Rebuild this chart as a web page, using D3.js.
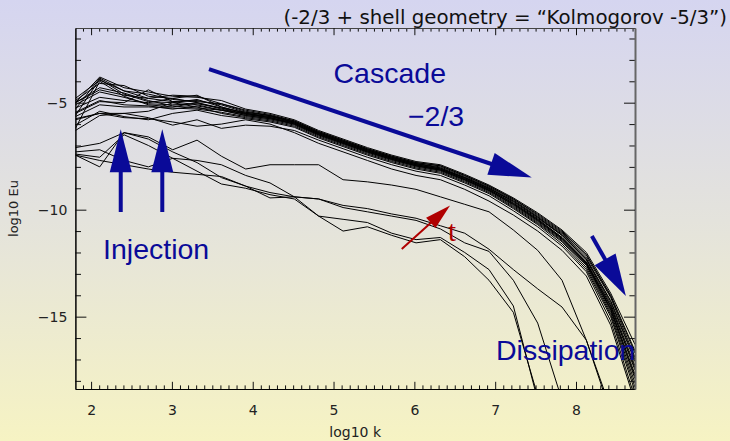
<!DOCTYPE html>
<html>
<head>
<meta charset="utf-8">
<script src="https://cdn.jsdelivr.net/npm/d3@7/dist/d3.min.js"></script>
<style>
  html, body { margin: 0; padding: 0; }
  body { width: 730px; height: 441px; overflow: hidden; }
  svg { display: block; }
</style>
</head>
<body>
<svg id="chart" width="730" height="441"></svg>
<script>
// Shell wavenumbers, log10 k_n for k_n = 2^n, n = 6 … 29
const logK = [1.806, 2.107, 2.408, 2.709, 3.010, 3.311, 3.612, 3.913, 4.214, 4.515, 4.816, 5.118,
              5.419, 5.720, 6.021, 6.322, 6.623, 6.924, 7.225, 7.526, 7.827, 8.128, 8.429, 8.730];

// Energy spectra log10 Eu, one array per snapshot (fully developed cascade)
const spec01 = [-5.0, -3.8, -4.3, -4.5, -4.7, -4.75, -4.9, -5.3, -5.5, -5.8, -6.3, -6.7, -7.1, -7.45, -7.75, -7.9, -8.35, -8.85, -9.45, -10.15, -10.95, -12.0, -13.9, -16.3];
const spec02 = [-5.3, -3.85, -4.45, -4.8, -4.95, -4.9, -5.1, -5.45, -5.6, -5.85, -6.35, -6.75, -7.15, -7.5, -7.8, -7.95, -8.4, -8.9, -9.5, -10.25, -11.05, -12.1, -14.0, -16.6];
const spec03 = [-5.6, -3.9, -4.6, -4.95, -5.0, -4.85, -5.2, -5.5, -5.65, -5.9, -6.4, -6.8, -7.2, -7.55, -7.85, -8.0, -8.45, -8.95, -9.55, -10.3, -11.1, -12.2, -14.1, -16.9];
const spec04 = [-6.2, -4.0, -4.7, -5.1, -5.2, -5.0, -5.3, -5.55, -5.7, -5.95, -6.45, -6.85, -7.25, -7.6, -7.9, -8.1, -8.5, -9.0, -9.65, -10.4, -11.2, -12.3, -14.3, -17.1];
const spec05 = [-4.9, -4.1, -4.2, -4.7, -4.8, -5.0, -5.25, -5.45, -5.6, -5.9, -6.4, -6.8, -7.2, -7.55, -7.85, -8.05, -8.5, -9.0, -9.6, -10.35, -11.2, -12.35, -14.4, -17.3];
const spec06 = [-5.0, -4.4, -4.65, -4.8, -4.65, -4.7, -5.05, -5.4, -5.6, -5.95, -6.45, -6.85, -7.25, -7.6, -7.9, -8.1, -8.55, -9.05, -9.7, -10.45, -11.3, -12.45, -14.5, -17.5];
const spec07 = [-5.25, -4.75, -4.9, -5.0, -4.8, -4.65, -5.2, -5.5, -5.7, -6.0, -6.5, -6.9, -7.3, -7.65, -7.95, -8.15, -8.6, -9.1, -9.75, -10.5, -11.35, -12.5, -14.6, -17.7];
const spec08 = [-5.5, -4.95, -5.0, -4.4, -4.95, -5.1, -5.35, -5.6, -5.75, -6.0, -6.5, -6.9, -7.3, -7.65, -7.95, -8.15, -8.6, -9.1, -9.8, -10.55, -11.4, -12.55, -14.7, -17.9];
const spec09 = [-5.65, -5.1, -5.2, -5.2, -5.25, -5.3, -5.45, -5.65, -5.8, -6.05, -6.55, -6.95, -7.35, -7.7, -8.0, -8.2, -8.65, -9.15, -9.85, -10.6, -11.45, -12.6, -14.8, -18.1];
const spec10 = [-5.8, -5.5, -5.5, -5.4, -5.0, -5.2, -5.5, -5.7, -5.85, -6.1, -6.6, -7.0, -7.4, -7.75, -8.05, -8.25, -8.7, -9.2, -9.9, -10.65, -11.5, -12.7, -14.9, -18.3];
const spec11 = [-6.05, -5.4, -5.65, -5.8, -5.5, -5.35, -5.6, -5.75, -5.9, -6.15, -6.65, -7.05, -7.45, -7.8, -8.1, -8.3, -8.75, -9.25, -9.95, -10.7, -11.6, -12.8, -15.0, -18.5];
const spec12 = [-6.3, -5.6, -5.5, -5.7, -6.05, -5.8, -6.2, -6.05, -6.1, -6.3, -6.75, -7.15, -7.55, -7.9, -8.2, -8.4, -8.85, -9.35, -10.05, -10.8, -11.7, -12.9, -15.2, -18.8];
const spec13 = [-5.0, -4.3, -4.55, -4.9, -5.15, -5.25, -5.35, -5.5, -5.65, -5.9, -6.4, -6.8, -7.2, -7.55, -7.85, -8.05, -8.5, -9.0, -9.6, -10.35, -11.15, -12.3, -14.25, -17.0];
const spec14 = [-5.1, -4.5, -4.75, -5.05, -5.1, -5.05, -5.25, -5.55, -5.7, -5.95, -6.45, -6.85, -7.25, -7.6, -7.9, -8.1, -8.55, -9.05, -9.7, -10.45, -11.3, -12.45, -14.5, -17.4];
const spec15 = [-5.45, -4.9, -5.1, -5.15, -5.3, -5.15, -5.35, -5.6, -5.75, -6.0, -6.5, -6.9, -7.3, -7.65, -7.95, -8.15, -8.6, -9.1, -9.75, -10.5, -11.35, -12.5, -14.65, -17.8];
const spec16 = [-5.75, -5.5, -5.7, -5.75, -5.9, -6.1, -6.0, -5.8, -6.0, -6.4, -6.9, -7.3, -7.7, -8.1, -8.4, -8.6, -9.05, -9.6, -10.25, -11.0, -11.9, -13.1, -15.4, -19.0];
const spec17 = [-4.8, -3.95, -4.45, -4.6, -4.85, -4.95, -5.05, -5.35, -5.55, -5.85, -6.35, -6.75, -7.15, -7.5, -7.8, -7.95, -8.4, -8.9, -9.5, -10.2, -11.0, -12.1, -14.05, -16.7];

// Early snapshots, before the cascade has reached the dissipative range
const early01 = [-7.1, -6.9, -6.4, -6.6, -7.2, -6.75, -7.5, -8.1, -7.9, -7.9, -7.9, -8.6, -8.7, -8.85, -9.05, -9.4, -9.75, -10.1, -10.95, -11.9, -13.3, -16.1, -19.3];
const early02 = [-7.45, -8.0, -6.4, -6.7, -7.3, -7.8, -8.5, -8.9, -9.2, -9.4, -9.5, -9.8, -9.95, -10.2, -10.4, -10.75, -11.1, -11.85, -12.8, -13.7, -14.55, -16.1, -19.5];
const early03 = [-7.3, -7.2, -7.7, -8.0, -7.6, -7.7, -7.9, -8.4, -8.75, -9.4, -9.5, -9.9, -10.1, -10.3, -10.5, -10.9, -11.55, -11.95, -13.3, -15.3, -18.9];
const early04 = [-7.45, -7.7, -7.9, -8.1, -8.25, -8.35, -8.45, -8.9, -9.45, -9.4, -10.3, -10.45, -10.6, -11.1, -11.4, -11.3, -12.0, -12.8, -14.5, -18.9];
const early05 = [-7.4, -7.55, -6.5, -7.0, -7.6, -8.2, -8.8, -9.0, -9.3, -9.5, -10.3, -11.0, -10.8, -11.2, -11.55, -11.4, -12.2, -13.3, -14.8, -18.7];

const spectra = [early01, early02, early03, early04, early05,
                 spec01, spec02, spec03, spec04, spec05, spec06, spec07, spec08, spec09,
                 spec10, spec11, spec12, spec13, spec14, spec15, spec16, spec17];

// Axis ticks
const xTickValues = [2, 3, 4, 5, 6, 7, 8];
const yTickValues = [-5, -10, -15];
const xDomain = [1.806, 8.73];
const yDomain = [-18.38, -1.51];

// ---------------------------------------------------------------------------
const W = 730, H = 441;
const margin = { left: 75.4, right: 95, top: 28, bottom: 52 };
const plotW = W - margin.left - margin.right;
const plotH = H - margin.top - margin.bottom;

const svg = d3.select("#chart");
const defs = svg.append("defs");

const bg = defs.append("linearGradient").attr("id", "bg")
  .attr("x1", 0).attr("y1", 0).attr("x2", 0).attr("y2", 1);
bg.append("stop").attr("offset", "0%").attr("stop-color", "#d5d5f0");
bg.append("stop").attr("offset", "50%").attr("stop-color", "#e4e3dc");
bg.append("stop").attr("offset", "100%").attr("stop-color", "#f6f3c3");
svg.append("rect").attr("width", W).attr("height", H).attr("fill", "url(#bg)");

defs.append("clipPath").attr("id", "plotClip")
  .append("rect").attr("x", 0).attr("y", 0).attr("width", plotW).attr("height", plotH);

const g = svg.append("g").attr("transform", `translate(${margin.left},${margin.top})`);

const x = d3.scaleLinear().domain(xDomain).range([0, plotW]);
const y = d3.scaleLinear().domain(yDomain).range([plotH, 0]);

// Spectra
const line = d3.line().x((d, i) => x(logK[i])).y(d => y(d));
g.append("g").attr("clip-path", "url(#plotClip)")
  .selectAll("path").data(spectra).join("path")
  .attr("d", d => line(d))
  .attr("fill", "none")
  .attr("stroke", "#000")
  .attr("stroke-width", 1)
  .attr("stroke-linejoin", "round");

// Axes: IDL-style box with inward ticks
const xMinor = d3.range(1.9, 8.75, 0.1).map(v => +v.toFixed(1)).filter(v => !xTickValues.includes(v));
const yMinor = d3.range(-18, -1, 1).filter(v => !yTickValues.includes(v));
const fmtY = d => "\u2212" + Math.abs(d);

const tickFont = "'DejaVu Sans', sans-serif";
function styleAxis(sel, color) {
  sel.selectAll("path.domain").attr("stroke", color);
  sel.selectAll(".tick line").attr("stroke", "#111");
  sel.selectAll("text").attr("font-family", tickFont).attr("font-size", 14).attr("fill", "#222");
}

const xMajLen = 7.2, xMinLen = 3.6, yMajLen = 11, yMinLen = 5.6;

g.append("g").attr("transform", `translate(0,${plotH})`)
  .call(d3.axisBottom(x).tickValues(xMinor).tickSize(-xMinLen).tickFormat("").tickSizeOuter(0))
  .call(s => styleAxis(s, "#000"));
g.append("g").attr("transform", `translate(0,${plotH})`)
  .call(d3.axisBottom(x).tickValues(xTickValues).tickSize(-xMajLen).tickPadding(16).tickFormat(d3.format("d")).tickSizeOuter(0))
  .call(s => styleAxis(s, "#000"));

g.append("g")
  .call(d3.axisTop(x).tickValues(xMinor).tickSize(-xMinLen).tickFormat("").tickSizeOuter(0))
  .call(s => styleAxis(s, "#444"));
g.append("g")
  .call(d3.axisTop(x).tickValues(xTickValues).tickSize(-xMajLen).tickFormat("").tickSizeOuter(0))
  .call(s => styleAxis(s, "#444"));

g.append("g")
  .call(d3.axisLeft(y).tickValues(yMinor).tickSize(-yMinLen).tickFormat("").tickSizeOuter(0))
  .call(s => styleAxis(s, "#000"));
g.append("g")
  .call(d3.axisLeft(y).tickValues(yTickValues).tickSize(-yMajLen).tickPadding(8).tickFormat(fmtY).tickSizeOuter(0))
  .call(s => styleAxis(s, "#000"));

g.append("g").attr("transform", `translate(${plotW},0)`)
  .call(d3.axisRight(y).tickValues(yMinor).tickSize(-yMinLen).tickFormat("").tickSizeOuter(0))
  .call(s => styleAxis(s, "#666"));
g.append("g").attr("transform", `translate(${plotW},0)`)
  .call(d3.axisRight(y).tickValues(yTickValues).tickSize(-yMajLen).tickFormat("").tickSizeOuter(0))
  .call(s => styleAxis(s, "#666"))
  .selectAll("path.domain").attr("stroke-width", 2);

// Axis titles
svg.append("text")
  .attr("x", margin.left + plotW / 2).attr("y", 437)
  .attr("text-anchor", "middle")
  .attr("font-family", tickFont).attr("font-size", 14).attr("fill", "#222")
  .text("log10 k");
svg.append("text")
  .attr("transform", `translate(18,${margin.top + plotH / 2}) rotate(-90)`)
  .attr("text-anchor", "middle")
  .attr("font-family", tickFont).attr("font-size", 13).attr("fill", "#222")
  .text("log10 Eu");

// Header line
const header = svg.append("text")
  .attr("x", 727).attr("y", 24)
  .attr("text-anchor", "end")
  .attr("font-family", "'DejaVu Sans', sans-serif").attr("font-size", 17).attr("fill", "#111")
  .style("white-space", "pre")
  .text("(-2/3 + shell geometry = \u201CKolmogorov -5/3\u201D)");
{
  const want = 444, got = header.node().getComputedTextLength();
  header.attr("font-size", 17 * want / got);
}

// Annotations (positions in data coordinates)
const blue = "#0a0a98", red = "#b00000";
function arrow(x0, y0, x1, y1, color, width, headLen, headHalf) {
  const p0 = [x(x0), y(y0)], p1 = [x(x1), y(y1)];
  const dx = p1[0] - p0[0], dy = p1[1] - p0[1], L = Math.hypot(dx, dy);
  const ux = dx / L, uy = dy / L;
  const b = [p1[0] - ux * headLen, p1[1] - uy * headLen];
  g.append("line")
    .attr("x1", p0[0]).attr("y1", p0[1]).attr("x2", b[0] + ux * 2).attr("y2", b[1] + uy * 2)
    .attr("stroke", color).attr("stroke-width", width);
  g.append("path")
    .attr("d", `M${p1[0]},${p1[1]}L${b[0] - uy * headHalf},${b[1] + ux * headHalf}L${b[0] + uy * headHalf},${b[1] - ux * headHalf}Z`)
    .attr("fill", color);
}

arrow(3.459, -3.43, 7.453, -8.50, blue, 4, 43, 11.5);   // cascade
arrow(2.367, -10.11, 2.367, -6.24, blue, 4, 43, 11);    // injection 1
arrow(2.881, -10.11, 2.881, -6.24, blue, 4, 43, 11);    // injection 2
arrow(8.196, -11.23, 8.617, -14.03, blue, 4, 42, 12);   // dissipation
arrow(5.844, -11.84, 6.442, -9.80, red, 2, 26, 7);      // time

const labelFont = "'Liberation Sans', Arial, Helvetica, sans-serif";
function label(tx, ty, txt, size, color, font) {
  g.append("text").attr("x", x(tx)).attr("y", y(ty))
    .attr("font-family", font || labelFont).attr("font-size", size).attr("fill", color)
    .text(txt);
}
label(5.0, -4.10, "Cascade", 28.5, blue);
label(5.92, -6.09, "\u22122/3", 28.5, blue);
label(2.148, -12.30, "Injection", 28.5, blue);
label(7.01, -17.02, "Dissipation", 28.5, blue);
label(6.417, -11.45, "t", 29, red, "'Liberation Serif', 'Times New Roman', serif");
</script>
</body>
</html>
